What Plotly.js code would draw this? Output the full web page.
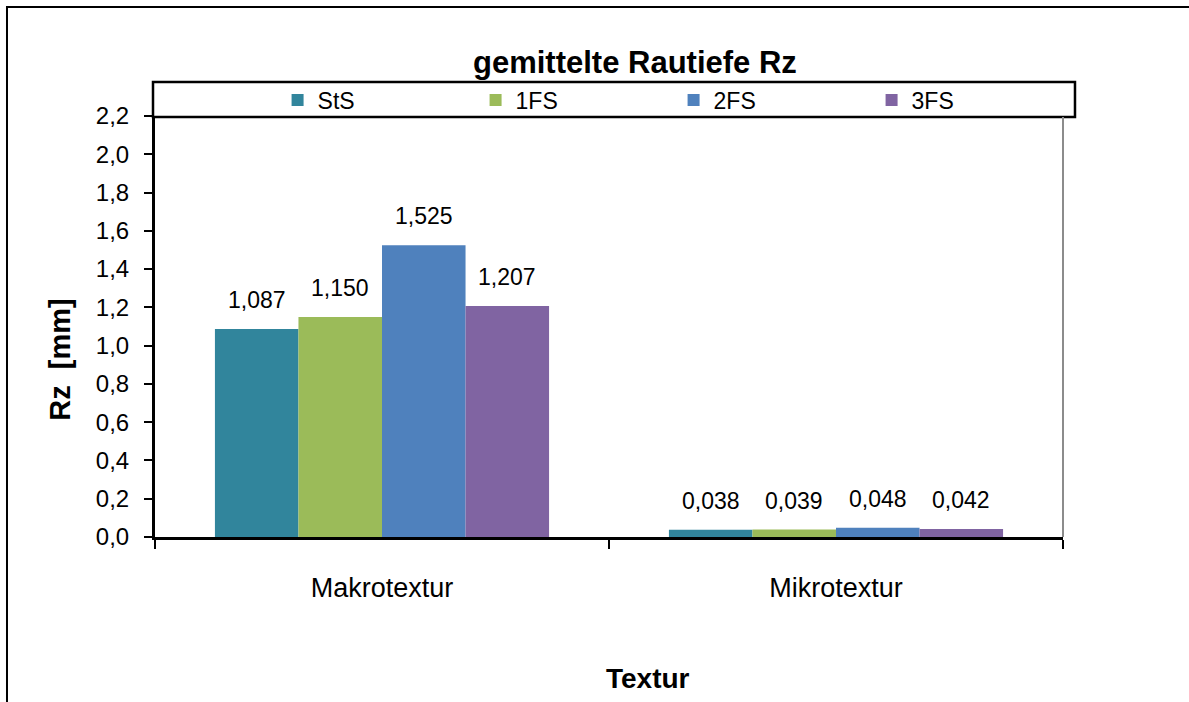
<!DOCTYPE html>
<html>
<head>
<meta charset="utf-8">
<script src="https://cdn.plot.ly/plotly-3.0.1.min.js"></script>
<style>html,body{margin:0;padding:0;background:#fff;}#chart{width:1189px;height:702px;}</style>
</head>
<body>
<div id="chart"></div>
<script>
var categories = ["Makrotextur", "Mikrotextur"];
var seriesNames = ["StS", "1FS", "2FS", "3FS"];
var valuesStS = [1.087, 0.038];
var values1FS = [1.150, 0.039];
var values2FS = [1.525, 0.048];
var values3FS = [1.207, 0.042];
var seriesColors = ["#31859C", "#9BBB59", "#4F81BD", "#8064A2"];
var chartTitle = "gemittelte Rautiefe Rz";
var yTitle = "Rz&nbsp;&nbsp;[mm]";
var xTitle = "Textur";

var allValues = [valuesStS, values1FS, values2FS, values3FS];
var FONT = "Liberation Sans, Arial, sans-serif";
var bargap = 0.264;

var traces = allValues.map(function (vals, i) {
  return {
    type: "bar",
    name: seriesNames[i],
    x: categories,
    y: vals,
    marker: {color: seriesColors[i], line: {width: 0}},
    hoverinfo: "none"
  };
});

var annotations = [];
var nS = allValues.length;
var bw = (1 - bargap) / nS;
allValues.forEach(function (vals, i) {
  vals.forEach(function (v, j) {
    annotations.push({
      xref: "x", yref: "y",
      x: j + (i - (nS - 1) / 2) * bw,
      y: v,
      yshift: 29,
      yanchor: "middle",
      showarrow: false,
      text: v.toFixed(3).replace(".", ","),
      font: {family: FONT, size: 23, color: "#000"}
    });
  });
});
annotations.push({
  xref: "paper", yref: "paper", x: -0.104, y: 0.42,
  xanchor: "center", yanchor: "middle", textangle: -90, showarrow: false,
  text: "<b>" + yTitle + "</b>", font: {family: FONT, size: 29, color: "#000"}
});
annotations.push({
  xref: "paper", yref: "paper", x: 0.543, y: -0.335,
  xanchor: "center", yanchor: "middle", showarrow: false,
  text: "<b>" + xTitle + "</b>", font: {family: FONT, size: 28, color: "#000"}
});

var layout = {
  width: 1189, height: 702,
  paper_bgcolor: "#fff", plot_bgcolor: "#fff",
  margin: {l: 155, r: 126, t: 116, b: 165},
  separators: ",.",
  font: {family: FONT, color: "#000"},
  title: {
    text: "<b>" + chartTitle + "</b>",
    font: {family: FONT, size: 31, color: "#000"},
    xref: "container", yref: "container",
    x: 0.534, y: 0.912, xanchor: "center", yanchor: "middle"
  },
  barmode: "group", bargap: bargap, bargroupgap: 0,
  showlegend: true,
  legend: {
    orientation: "h", xref: "paper", yref: "paper",
    x: 0.135, y: 1.038, xanchor: "left", yanchor: "middle",
    entrywidth: 153, entrywidthmode: "pixels",
    font: {family: FONT, size: 23, color: "#000"},
    bgcolor: "rgba(0,0,0,0)", borderwidth: 0
  },
  xaxis: {
    type: "category",
    showline: true, linecolor: "#000", linewidth: 3,
    ticks: "outside", tickson: "boundaries", ticklen: 9, tickwidth: 2, tickcolor: "#000",
    ticklabelstandoff: 25,
    tickfont: {family: FONT, size: 27, color: "#000"},
    showgrid: false, zeroline: false, fixedrange: true
  },
  yaxis: {
    range: [0, 2.2], dtick: 0.2, tick0: 0, tickformat: ".1f",
    showline: true, linecolor: "#000", linewidth: 3,
    ticks: "outside", ticklen: 8, tickwidth: 2, tickcolor: "#000",
    ticklabelstandoff: 10,
    tickfont: {family: FONT, size: 24, color: "#000"},
    showgrid: false, zeroline: false, fixedrange: true
  },
  shapes: [
    {type: "rect", xref: "paper", yref: "paper",
     x0: -0.163, x1: 1.3, y0: -0.5, y1: 1.2589,
     line: {color: "#000", width: 2}, fillcolor: "rgba(0,0,0,0)", layer: "below"},
    {type: "rect", xref: "paper", yref: "paper",
     x0: -0.0022, x1: 1.0132, y0: 0.9976, y1: 1.0808,
     line: {color: "#000", width: 2.5}, fillcolor: "rgba(0,0,0,0)", layer: "below"},
    {type: "line", xref: "paper", yref: "paper",
     x0: 1, x1: 1, y0: 0, y1: 0.9976,
     line: {color: "#8c8c8c", width: 2}, layer: "below"}
  ],
  annotations: annotations
};

Plotly.newPlot("chart", traces, layout, {displayModeBar: false, staticPlot: true});
</script>
</body>
</html>
